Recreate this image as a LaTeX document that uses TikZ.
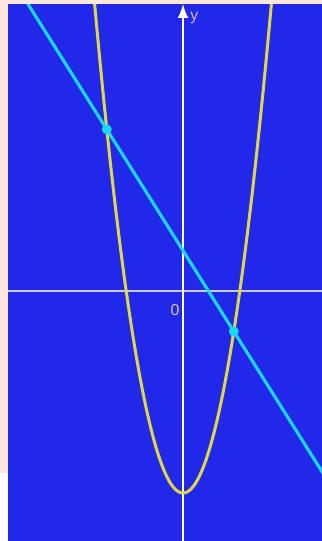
\documentclass[tikz,border=0pt]{standalone}
\usepackage{fontspec}
\setsansfont{Liberation Sans}
\usetikzlibrary{arrows, calc, positioning}

\definecolor{bgblue}{RGB}{34,40,232}
\definecolor{peach}{RGB}{253,231,222}
\definecolor{linecyan}{RGB}{25,215,240}
\definecolor{parabyellow}{RGB}{222,216,72}
\definecolor{axislav}{RGB}{205,200,250}
\definecolor{labgray}{RGB}{195,188,200}
\definecolor{labbeige}{RGB}{215,205,140}

\begin{document}
\begin{tikzpicture}[x=0.508cm,y=0.808cm]
\useasboundingbox (-7.205,-6.188) rectangle (5.472,7.203);
\fill[white] (-7.205,-6.188) rectangle (5.472,7.203);
\fill[peach] (-7.205,-4.505) rectangle (5.472,7.203);
\fill[bgblue] (-6.89,-6.188) rectangle (5.472,7.104);
\begin{scope}
\clip (-6.89,-6.188) rectangle (5.472,7.104);
\coordinate (x-a) at (-6.89,0);
\coordinate (x-b) at (5.472,0);
\coordinate (y-a) at (0,-6.188);
\coordinate (y-b) at (0,7.104);
\draw[color=axislav,line width=1.1pt] (x-a) -- (x-b);
\draw[color=white,line width=1.7pt,-latex] (y-a) -- (y-b);
\draw[color=parabyellow,line width=1.7pt,domain=-3.52:3.52,samples=120,smooth] plot (\x,{\x*\x-5});
\coordinate (l-a) at (-6.3,7.3);
\coordinate (l-b) at (5.6,-4.6);
\draw[color=linecyan,line width=1.8pt] (l-a) -- (l-b);
\foreach \x/\y [count=\i] in {-3/4,2/-1}{
  \node[circle,fill=linecyan,inner sep=0pt,minimum size=0.2cm] at (\x,\y) (p-\i) {};
};
\end{scope}
\node[text=labgray,font=\sffamily\fontsize{9}{10}\selectfont] at (0.45,6.75) (y-lab) {y};
\node[text=labbeige,font=\sffamily\fontsize{9}{10}\selectfont] at (-0.31,-0.47) (o-lab) {0};
\end{tikzpicture}
\end{document}
